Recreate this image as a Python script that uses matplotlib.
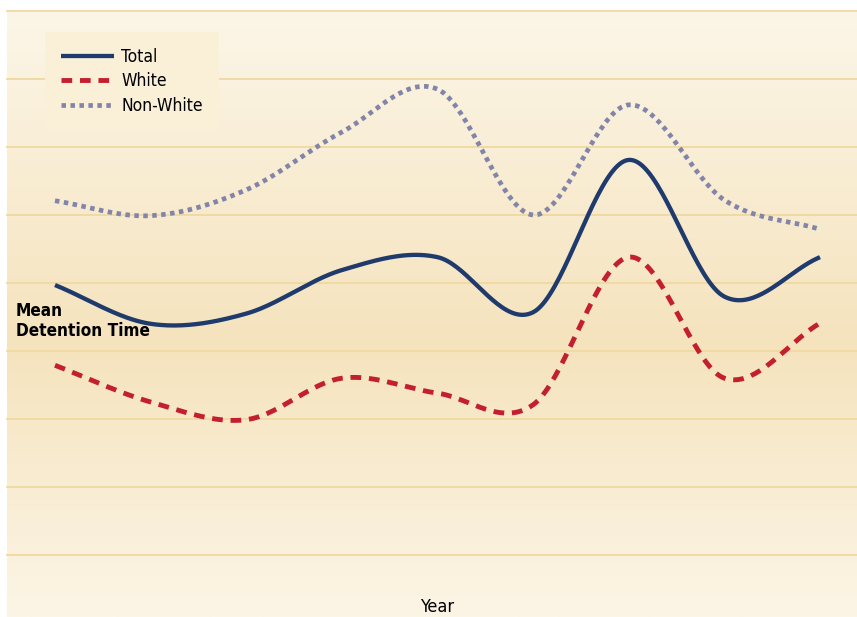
import matplotlib

matplotlib.use('agg')

import matplotlib.pyplot as plt
import numpy as np
from matplotlib.colors import LinearSegmentedColormap

# nine yearly observations, values in grid units
years = [0, 1, 2, 3, 4, 5, 6, 7, 8]
total = [3.97, 3.40, 3.55, 4.19, 4.38, 3.57, 5.81, 3.80, 4.38]
white = [2.79, 2.25, 1.99, 2.60, 2.38, 2.21, 4.38, 2.60, 3.41]
non_white = [5.21, 4.99, 5.37, 6.22, 6.85, 5.00, 6.62, 5.22, 4.79]

series = [
    ("Total", total, "#1f3a6d", "-", 3.1),
    ("White", white, "#c41f2f", (0, (2.2, 1.6)), 3.5),
    ("Non-White", non_white, "#8284a9", (0, (0.95, 0.95)), 3.4),
]

FONT = ['DejaVu Sans Condensed', 'Liberation Sans Narrow', 'DejaVu Sans']
STRETCH = 'condensed'


def smooth(x, y, n=40):
    # Catmull-Rom curve through each point
    x = np.asarray(x, float)
    y = np.asarray(y, float)
    m = np.zeros_like(y)
    m[1:-1] = (y[2:] - y[:-2]) / 2.0
    m[0] = y[1] - y[0]
    m[-1] = y[-1] - y[-2]
    xs, ys = [], []
    for i in range(len(x) - 1):
        t = np.linspace(0, 1, n, endpoint=False)
        h00 = 2 * t**3 - 3 * t**2 + 1
        h10 = t**3 - 2 * t**2 + t
        h01 = -2 * t**3 + 3 * t**2
        h11 = t**3 - t**2
        ys.append(h00 * y[i] + h10 * m[i] + h01 * y[i + 1] + h11 * m[i + 1])
        xs.append(x[i] + t * (x[i + 1] - x[i]))
    xs.append([x[-1]])
    ys.append([y[-1]])
    return np.concatenate(xs), np.concatenate(ys)


fig = plt.figure(figsize=(8.57, 6.17), dpi=100)
ax = fig.add_axes([7 / 857, 0, 850 / 857, 606 / 617])

xmin, xmax = -48 / 95.625, 8 + 37 / 95.625
ymin, ymax = -62 / 68, 8
ax.set_xlim(xmin, xmax)
ax.set_ylim(ymin, ymax)

# vertical cream-to-tan gradient behind the plot
cmap = LinearSegmentedColormap.from_list(
    "bg", [(0.0, "#fcf6e8"), (0.55, "#f5e3bd"), (1.0, "#fcf5e6")])
grad = np.linspace(0, 1, 256).reshape(-1, 1)
ax.imshow(grad, cmap=cmap, aspect='auto', extent=[xmin, xmax, ymin, ymax],
          origin='upper', zorder=0)

for v in range(0, 9):
    ax.axhline(v, color="#f0d9a0", lw=1.3, zorder=1, clip_on=False)

for name, vals, color, style, lw in series:
    sx, sy = smooth(years, vals)
    ax.plot(sx, sy, color=color, lw=lw, linestyle=style, label=name,
            dash_capstyle='butt', solid_capstyle='butt', zorder=3)

for s in ax.spines.values():
    s.set_visible(False)
ax.set_xticks([])
ax.set_yticks([])

leg = ax.legend(loc='upper left', bbox_to_anchor=(38 / 850, 585 / 606),
                frameon=True, facecolor="#faf0d8", edgecolor="none",
                framealpha=1, fancybox=False, handlelength=3.1,
                handletextpad=0.4, labelspacing=0.38, borderpad=0.9,
                borderaxespad=0,
                prop={'family': FONT, 'size': 12.5, 'stretch': STRETCH})
leg.set_zorder(2)

ax.text(9 / 850, 3.44, "Mean\nDetention Time", ha='left', va='center',
        fontsize=12.3, fontweight='bold', family=FONT, fontstretch=STRETCH,
        linespacing=1.2, zorder=4, transform=ax.get_yaxis_transform())
fig.text(437 / 857, 1 - 607 / 617, "Year", ha='center', va='center',
         fontsize=13, family=FONT, fontstretch=STRETCH)

fig.savefig("out.png", dpi=100, facecolor="white")
